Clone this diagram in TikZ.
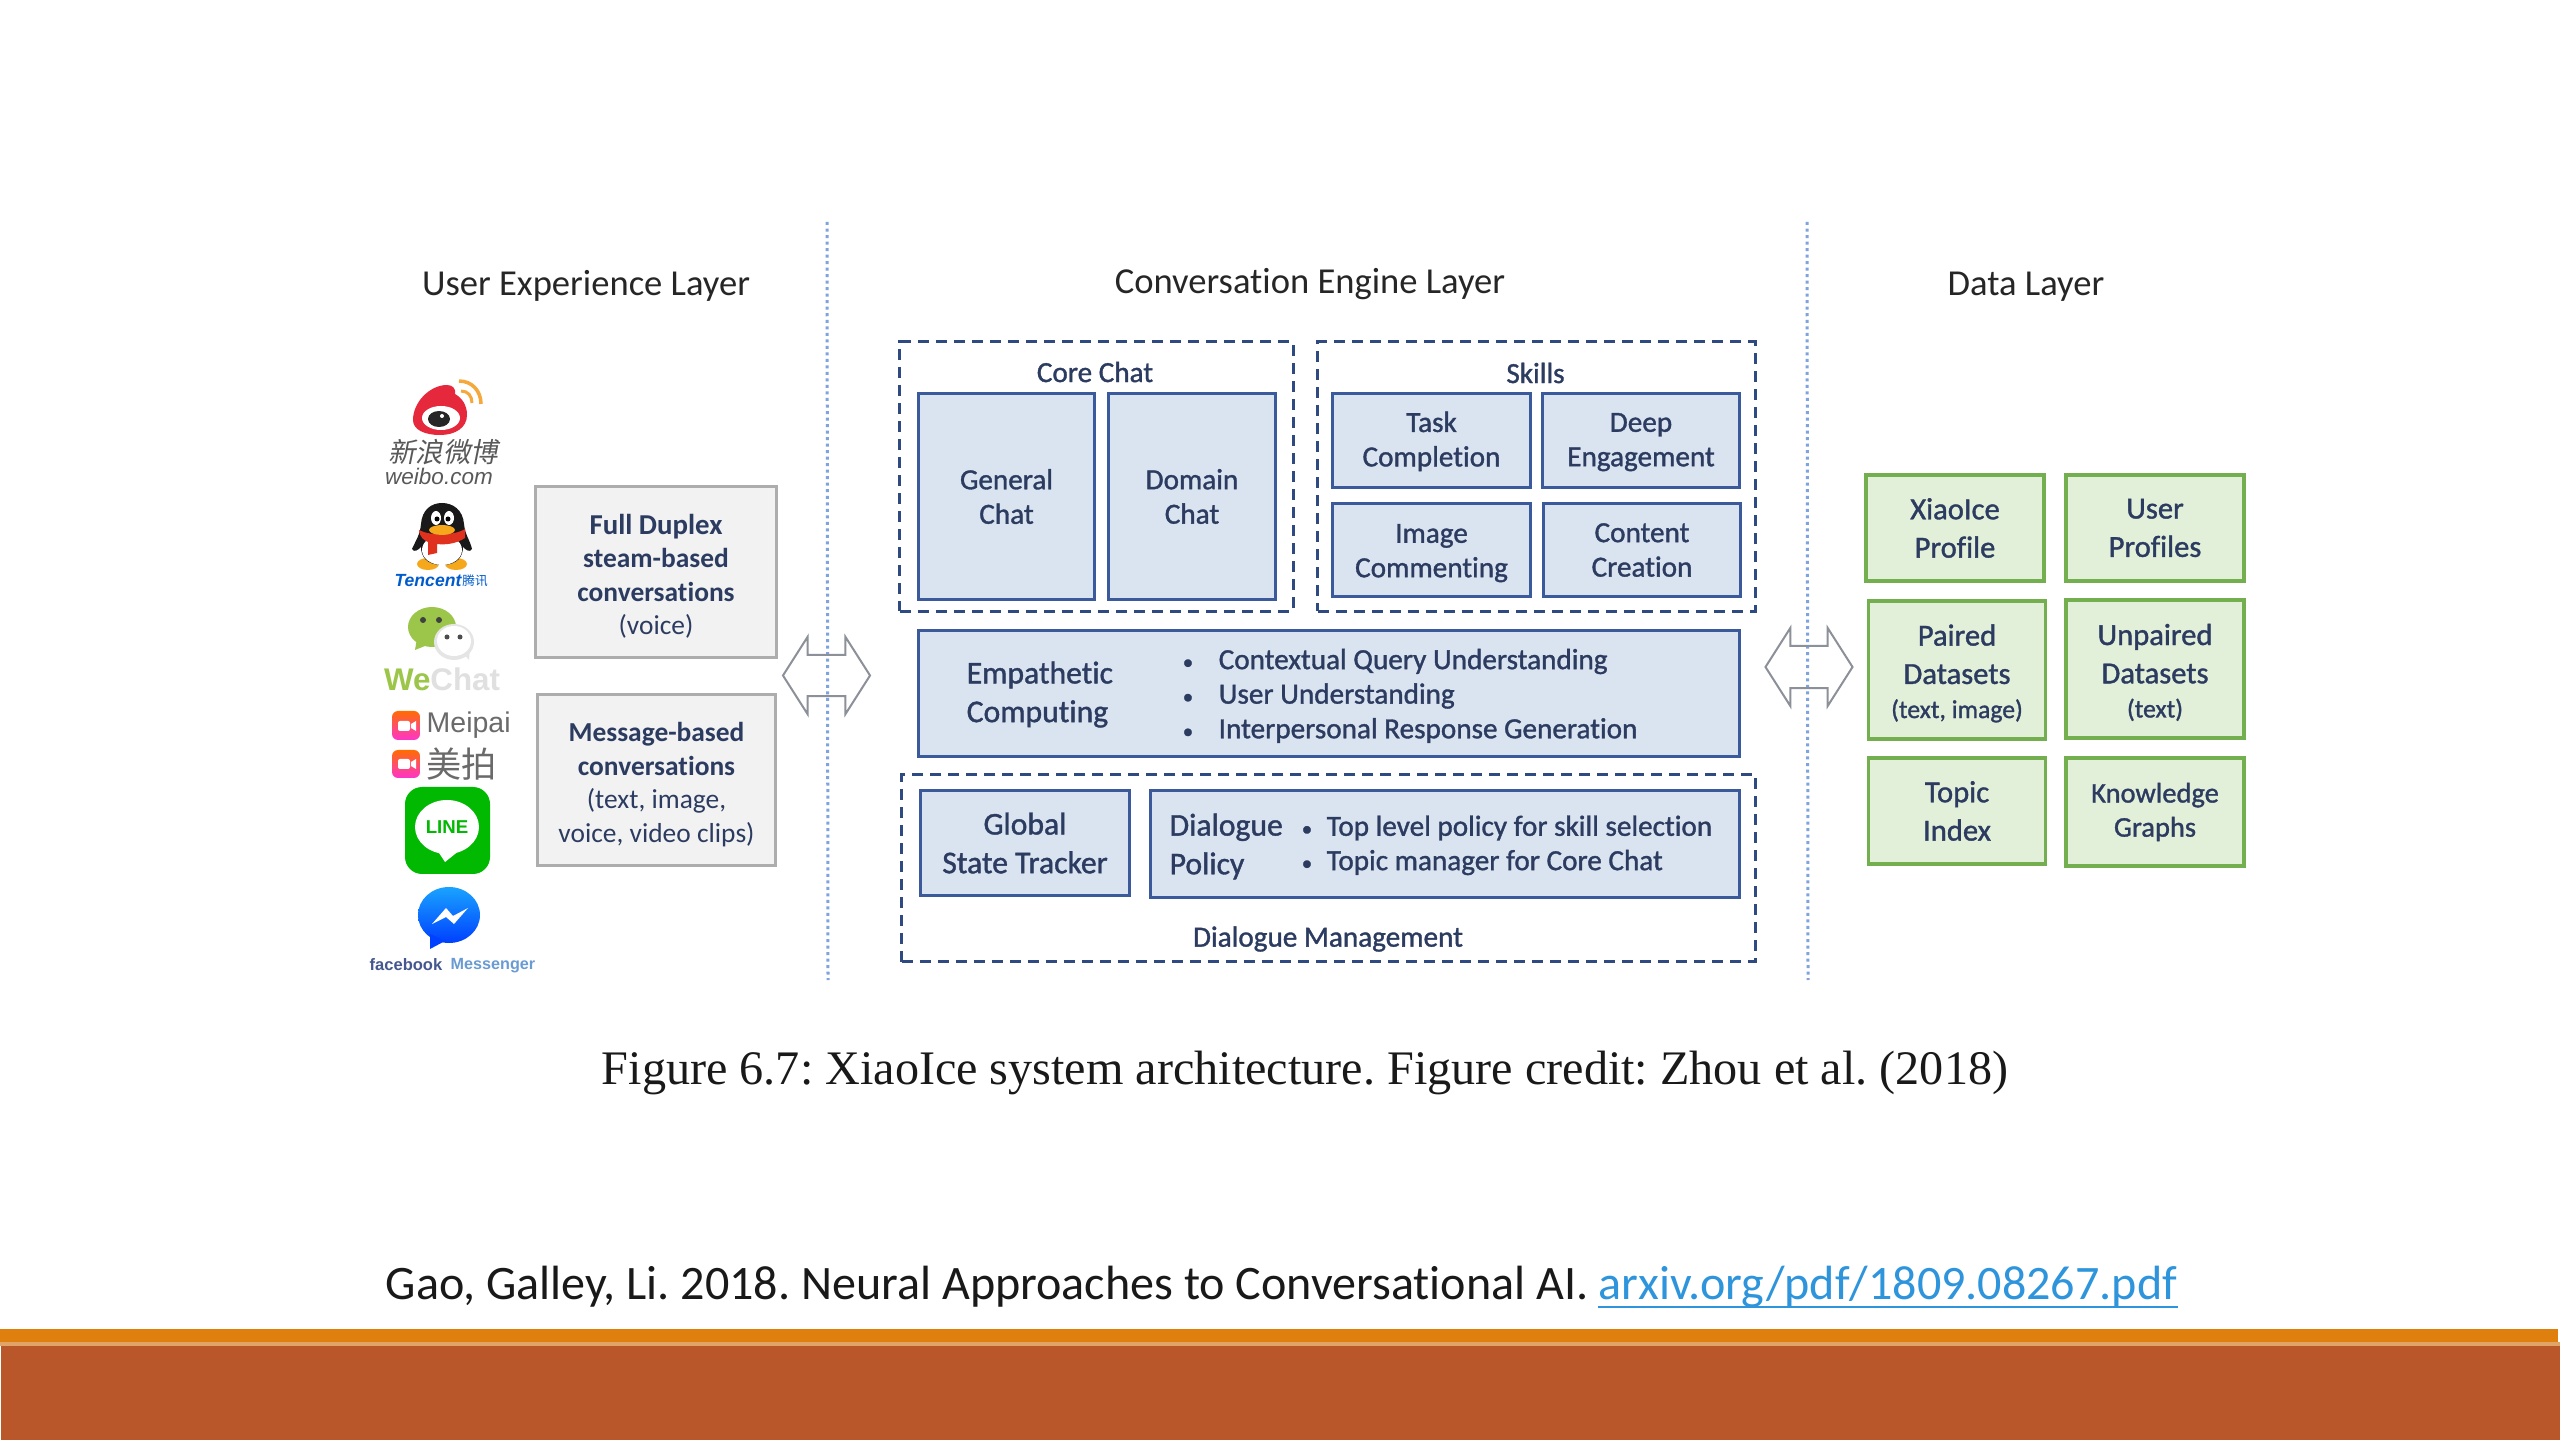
\documentclass[tikz,border=0pt]{standalone}
\usepackage{fontspec}
\setmainfont{Carlito}[Ligatures=NoCommon]
\newfontfamily\medfont[FakeBold=1.2,Ligatures=NoCommon]{Carlito}
\newfontfamily\logofont{Liberation Sans}
\newfontfamily\capfont{Liberation Serif}
\newfontfamily\cjk{Noto Sans CJK SC}
\newfontfamily\cjkslant[FakeSlant=0.2]{Noto Sans CJK SC}
\usetikzlibrary{shapes.arrows}
\definecolor{navytext}{HTML}{2C3B60}
\definecolor{bluefill}{HTML}{DAE3F0}
\definecolor{blueline}{HTML}{3A5A9C}
\definecolor{dashline}{HTML}{2F4A80}
\definecolor{greyfill}{HTML}{F2F2F2}
\definecolor{greyline}{HTML}{ADADAD}
\definecolor{greenfill}{HTML}{E2EFD9}
\definecolor{greenline}{HTML}{74AF4F}
\definecolor{dividerblue}{HTML}{7FA3DC}
\definecolor{arrowgrey}{HTML}{8C9098}
\definecolor{barorange}{HTML}{DF7F0E}
\definecolor{barlight}{HTML}{E0A468}
\definecolor{barbrick}{HTML}{B9572B}
\definecolor{linkblue}{HTML}{2E95DC}
\definecolor{weibored}{HTML}{E6283C}
\definecolor{weiboorange}{HTML}{F5A83C}
\definecolor{qqred}{HTML}{E0301E}
\definecolor{qqorange}{HTML}{F5A81C}
\definecolor{wegreen}{HTML}{9CC64A}
\definecolor{meipaigrey}{HTML}{6A6A6A}
\definecolor{linegreen}{HTML}{00B900}
\definecolor{fbnavy}{HTML}{44578E}
\definecolor{fblight}{HTML}{6A9BD2}
\newcommand{\itemdot}[1]{\makebox[#1][l]{\fontsize{6}{6}\selectfont\textbullet}}
\newcommand{\linedrop}[1]{\rule{0pt}{#1}}
\frenchspacing
\begin{document}
\begin{tikzpicture}[
    x=0.01cm, y=-0.01cm,
    % Define styles
    textbox/.style={
        rectangle,
        align=center,
        text=navytext,
        inner sep=0pt
    },
    greybox/.style={
        textbox,
        draw=greyline,
        fill=greyfill,
        line width=0.03cm,
        font=\fontsize{7.8}{9.55}\selectfont
    },
    bluebox/.style={
        textbox,
        draw=blueline,
        fill=bluefill,
        line width=0.03cm,
        font=\medfont\fontsize{8.3}{9.8}\selectfont
    },
    greenbox/.style={
        textbox,
        draw=greenline,
        fill=greenfill,
        line width=0.035cm,
        font=\medfont\fontsize{8.7}{10.9}\selectfont
    },
    dashbox/.style={
        rectangle,
        draw=dashline,
        line width=0.03cm,
        dash pattern=on 0.11cm off 0.07cm,
        inner sep=0pt
    },
    label/.style={
        text=navytext,
        inner sep=0pt,
        font=\medfont\fontsize{8.3}{9.8}\selectfont
    },
    biglabel/.style={
        label,
        align=left,
        font=\medfont\fontsize{9}{11}\selectfont
    },
    layer/.style={
        text=black!85,
        inner sep=0pt,
        font=\fontsize{10.4}{12}\selectfont
    },
    divider/.style={
        dividerblue,
        line width=0.03cm,
        densely dotted
    },
    bothways/.style={
        double arrow,
        draw=arrowgrey,
        line width=0.02cm,
        inner xsep=0pt,
        double arrow head extend=0.18cm,
        double arrow tip angle=115,
        minimum height=0.87cm
    },
    logotext/.style={
        inner sep=0pt,
        font=\logofont
    }
]
\useasboundingbox (0,0) rectangle (2560,1440);
\fill[white] (0,0) rectangle (2560,1440);

% Footer bars
\fill[barorange] (0,1329) rectangle (2558,1342);
\fill[barlight] (0,1342) rectangle (2560,1346);
\fill[barbrick] (1,1346) rectangle (2560,1440);

% Layer titles
\node[layer] (uxtitle) at (586,286) {User Experience Layer};
\node[layer] (enginetitle) at (1310,284) {Conversation Engine Layer};
\node[layer] (datatitle) at (2026,287) {Data Layer};

% Dividers between the layers
\coordinate (divaTop) at (827,222);
\coordinate (divaEnd) at (828,980);
\coordinate (divbTop) at (1807,222);
\coordinate (divbEnd) at (1808,980);
\draw[divider] (divaTop) -- (divaEnd);
\draw[divider] (divbTop) -- (divbEnd);

% Arrows across the dividers
\node[bothways, inner ysep=0.195cm] (uxarrow) at (826.5,675.5) {};
\node[bothways, inner ysep=0.20cm] (dataarrow) at (1809,667) {};

% User experience boxes
\node[greybox, minimum width=2.40cm, minimum height=1.70cm] (duplex) at (656,572)
    {\fontsize{8.2}{9.55}\selectfont\bfseries\linedrop{0.29cm}Full Duplex\\ \bfseries steam-based\\ \bfseries conversations\\ (voice)};
\node[greybox, minimum width=2.385cm, minimum height=1.71cm] (message) at (656.5,780)
    {\bfseries\linedrop{0.28cm}Message-based\\ \bfseries conversations\\ (text, image,\\ voice, video clips)};

% Core chat
\node[dashbox, minimum width=3.93cm, minimum height=2.69cm] (corechat) at (1096.5,476.5) {};
\node[label] (corelabel) at (1095,372) {Core Chat};
\node[bluebox, minimum width=1.75cm, minimum height=2.05cm] (general) at (1006.5,496.5) {General\\Chat};
\node[bluebox, minimum width=1.675cm, minimum height=2.05cm] (domain) at (1192,496.5) {Domain\\Chat};

% Skills
\node[dashbox, minimum width=4.37cm, minimum height=2.69cm] (skills) at (1536.5,476.5) {};
\node[label] (skillslabel) at (1535.5,373) {Skills};
\node[bluebox, minimum width=1.97cm, minimum height=0.93cm] (task) at (1431.5,440.5) {\linedrop{0.22cm}Task\\Completion};
\node[bluebox, minimum width=1.965cm, minimum height=0.93cm] (deep) at (1641,440.5) {\linedrop{0.22cm}Deep\\Engagement};
\node[bluebox, minimum width=1.97cm, minimum height=0.935cm] (image) at (1431.5,550) {\linedrop{0.25cm}Image\\Commenting};
\node[bluebox, minimum width=1.975cm, minimum height=0.935cm] (content) at (1642,550) {Content\\Creation};

% Empathetic computing
\node[bluebox, minimum width=8.20cm, minimum height=1.26cm] (empathetic) at (1329,693.5) {};
\node[biglabel, anchor=west] (emplabel) at (966,694.5) {Empathetic\\Computing};
\node[label, anchor=west] (empa) at (1182,661.5) {\itemdot{0.36cm}Contextual Query Understanding};
\node[label, anchor=west] (empb) at (1182,696) {\itemdot{0.36cm}User Understanding};
\node[label, anchor=west] (empc) at (1182,730.5) {\itemdot{0.36cm}Interpersonal Response Generation};

% Dialogue management
\node[dashbox, minimum width=8.53cm, minimum height=1.875cm] (dialogue) at (1328.5,868) {};
\node[label] (dialoguelabel) at (1328,939) {Dialogue Management};
\node[bluebox, minimum width=2.08cm, minimum height=1.055cm, font=\medfont\fontsize{9}{11}\selectfont] (tracker) at (1025,843) {Global\\State Tracker};
\node[bluebox, minimum width=5.88cm, minimum height=1.06cm] (policy) at (1445,844) {};
\node[biglabel, anchor=west] (policylabel) at (1169,846.5) {Dialogue\\Policy};
\node[label, anchor=west] (polya) at (1301,828) {\itemdot{0.25cm}Top level policy for skill selection};
\node[label, anchor=west] (polyb) at (1301,862.5) {\itemdot{0.25cm}Topic manager for Core Chat};

% Data layer
\node[greenbox, minimum width=1.78cm, minimum height=1.06cm] (xiaoice) at (1955,528) {XiaoIce\\Profile};
\node[greenbox, minimum width=1.78cm, minimum height=1.06cm] (users) at (2155,528) {User\\Profiles};
\node[greenbox, minimum width=1.77cm, minimum height=1.38cm] (paired) at (1957,670) {\linedrop{0.28cm}Paired\\Datasets\\[-1.2pt]{\fontsize{7.3}{9.6}\selectfont (text, image)}};
\node[greenbox, minimum width=1.78cm, minimum height=1.38cm] (unpaired) at (2155,669) {\linedrop{0.28cm}Unpaired\\Datasets\\[-1.2pt]{\fontsize{7.3}{9.6}\selectfont (text)}};
\node[greenbox, minimum width=1.77cm, minimum height=1.06cm] (topic) at (1957,811) {Topic\\Index};
\node[greenbox, minimum width=1.78cm, minimum height=1.08cm, font=\medfont\fontsize{8.1}{9.7}\selectfont] (knowledge) at (2155,812) {Knowledge\\Graphs};

% Weibo logo
\fill[weibored] (413,420) .. controls (413,402) and (430,385) .. (447,385) .. controls (453,385) and (456,389) .. (455,394) .. controls (462,398) and (467,405) .. (467,415) .. controls (467,428) and (455,435) .. (440,435) .. controls (425,435) and (413,430) .. (413,420) -- cycle;
\fill[white] (441,418) ellipse [x radius=19, y radius=12];
\fill[black!85] (439,419) ellipse [x radius=11, y radius=8];
\fill[white] (442,416) circle [radius=2];
\draw[weiboorange, line width=0.035cm] (459,381) .. controls (472,381) and (481,391) .. (481,404);
\draw[weiboorange, line width=0.03cm] (461,391) .. controls (468,391) and (472,396) .. (472,403);
\node[logotext, text=black!65, font=\cjkslant\fontsize{7.8}{9}\selectfont] (weibocn) at (443,452) {新浪微博};
\node[logotext, text=black!65, font=\logofont\itshape\fontsize{6.4}{8}\selectfont] (weibocom) at (439,476) {weibo.com};

% QQ penguin logo
\fill[qqorange] (428,564) ellipse [x radius=11, y radius=6];
\fill[qqorange] (456,564) ellipse [x radius=11, y radius=6];
\fill[black!90] (412,549) .. controls (416,540) and (420,535) .. (421,524) .. controls (422,510) and (431,503) .. (442,503) .. controls (453,503) and (463,510) .. (464,524) .. controls (465,535) and (470,540) .. (472,549) .. controls (470,553) and (466,550) .. (463,547) .. controls (463,556) and (458,565) .. (442,565) .. controls (426,565) and (421,556) .. (421,547) .. controls (418,550) and (414,553) .. (412,549) -- cycle;
\fill[white] (442,550) ellipse [x radius=20, y radius=15];
\fill[white] (436,518) ellipse [x radius=5, y radius=7];
\fill[white] (449,518) ellipse [x radius=5, y radius=7];
\fill[black] (437,519) circle [radius=2.5];
\fill[black] (448,519) circle [radius=2.5];
\fill[qqred] (419,530) .. controls (430,536) and (454,536) .. (465,529) -- (465,538) .. controls (456,544) and (445,545) .. (437,544) -- (437,553) -- (428,555) -- (428,542) .. controls (424,540) and (420,538) .. (419,530) -- cycle;
\fill[qqorange] (442,530) ellipse [x radius=13, y radius=5];
\node[logotext, text=blue!55!cyan!80!black, font=\logofont\bfseries\itshape\fontsize{5}{6}\selectfont] (tencent) at (428,581) {Tencent};
\node[logotext, text=blue!55!cyan!80!black, font=\cjk\fontsize{3.6}{5}\selectfont] (tencentcn) at (475,581) {腾讯};

% WeChat logo
\fill[wegreen] (432,627) ellipse [x radius=24, y radius=20];
\fill[wegreen] (417,638) -- (415,650) -- (430,644) -- cycle;
\fill[black!10] (454,642) ellipse [x radius=20, y radius=18];
\fill[black!10] (462,652) -- (469,660) -- (470,648) -- cycle;
\fill[white] (454,641) ellipse [x radius=17, y radius=15];
\fill[black!75] (423,620) circle [radius=3];
\fill[black!75] (439,620) circle [radius=3];
\fill[black!70] (447,637) circle [radius=2.5];
\fill[black!70] (460,637) circle [radius=2.5];
\node[logotext, font=\logofont\bfseries\fontsize{8.9}{10}\selectfont] (wechat) at (442,679) {\textcolor{wegreen}{We}\textcolor{black!12}{Chat}};

% Meipai logo
\shade[top color=orange!85!red, bottom color=magenta!75!red!80, rounded corners=0.06cm] (392,711) rectangle (420,740);
\shade[top color=orange!85!red, bottom color=magenta!75!red!80, rounded corners=0.06cm] (392,750) rectangle (420,778);
\fill[white, rounded corners=0.02cm] (398,721) rectangle (410,731);
\fill[white] (411,724) -- (416,721) -- (416,731) -- (411,728) -- cycle;
\fill[white, rounded corners=0.02cm] (398,759) rectangle (410,769);
\fill[white] (411,762) -- (416,759) -- (416,769) -- (411,766) -- cycle;
\node[logotext, anchor=west, text=meipaigrey, font=\logofont\fontsize{8.1}{10}\selectfont] (meipai) at (426,725.5) {Meipai};
\node[logotext, anchor=west, text=meipaigrey, font=\cjk\fontsize{10}{12}\selectfont] (meipaicn) at (426,764) {美拍};

% LINE logo
\fill[linegreen, rounded corners=0.17cm] (405,787) rectangle (490,874);
\fill[white] (447,827) ellipse [x radius=32, y radius=27];
\fill[white] (437,850) -- (445,862) -- (460,850) -- cycle;
\node[logotext, text=linegreen, font=\logofont\bfseries\fontsize{5.3}{6}\selectfont] (linename) at (447,827) {LINE};

% Messenger logo
\shade[top color=cyan!60!blue!90, bottom color=blue!75!cyan] (449,915) ellipse [x radius=31, y radius=28];
\fill[blue!75!cyan] (430,934) -- (430,949) -- (445,941) -- cycle;
\fill[white] (432,924) -- (446,908) -- (453,916) -- (468,908) -- (454,924) -- (446,917) -- cycle;
\node[logotext, text=fbnavy, font=\logofont\bfseries\fontsize{4.7}{6}\selectfont] (facebook) at (406,965) {facebook};
\node[logotext, text=fblight, font=\logofont\bfseries\fontsize{4.6}{6}\selectfont] (messenger) at (493,966) {Messenger};

% Caption and reference
\node[inner sep=0pt, anchor=base, text=black!90, font=\capfont\fontsize{13.7}{16}\selectfont] (caption) at (1305,1084) {Figure 6.7: XiaoIce system architecture. Figure credit: Zhou et al. (2018)};
\node[inner sep=0pt, anchor=base west, text=black!90, font=\fontsize{13.67}{16}\selectfont] (reference) at (385,1299) {Gao, Galley, Li. 2018. Neural Approaches to Conversational AI.};
\node[inner sep=0pt, anchor=base west, text=linkblue, font=\fontsize{13.67}{16}\selectfont] (linktext) at (1598,1299) {arxiv.org/pdf/1809.08267.pdf};
\draw[linkblue, line width=0.025cm] ([yshift=-0.08cm]linktext.base west) -- ([yshift=-0.08cm]linktext.base east);
\end{tikzpicture}
\end{document}
